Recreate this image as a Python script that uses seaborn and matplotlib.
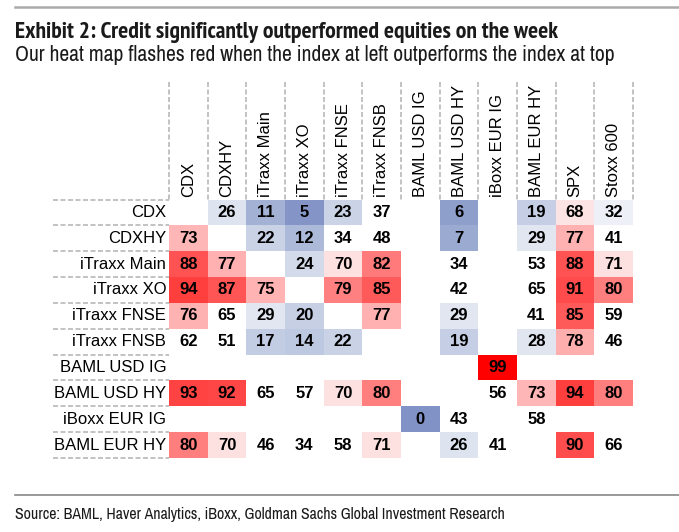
import os
import numpy as np
import pandas as pd
import seaborn as sns
import matplotlib.pyplot as plt
from matplotlib import font_manager as fm
from matplotlib.colors import LinearSegmentedColormap
from matplotlib.lines import Line2D

nan = np.nan

indices = ['CDX', 'CDXHY', 'iTraxx Main', 'iTraxx XO', 'iTraxx FNSE', 'iTraxx FNSB',
           'BAML USD IG', 'BAML USD HY', 'iBoxx EUR IG', 'BAML EUR HY']
top_cols = indices + ['SPX', 'Stoxx 600']

cdx = [nan, 26, 11, 5, 23, 37, nan, 6, nan, 19, 68, 32]
cdxhy = [73, nan, 22, 12, 34, 48, nan, 7, nan, 29, 77, 41]
itraxx_main = [88, 77, nan, 24, 70, 82, nan, 34, nan, 53, 88, 71]
itraxx_xo = [94, 87, 75, nan, 79, 85, nan, 42, nan, 65, 91, 80]
itraxx_fnse = [76, 65, 29, 20, nan, 77, nan, 29, nan, 41, 85, 59]
itraxx_fnsb = [62, 51, 17, 14, 22, nan, nan, 19, nan, 28, 78, 46]
baml_usd_ig = [nan, nan, nan, nan, nan, nan, nan, nan, 99, nan, nan, nan]
baml_usd_hy = [93, 92, 65, 57, 70, 80, nan, nan, 56, 73, 94, 80]
iboxx_eur_ig = [nan, nan, nan, nan, nan, nan, 0, 43, nan, 58, nan, nan]
baml_eur_hy = [80, 70, 46, 34, 58, 71, nan, 26, 41, nan, 90, 66]

title = 'Exhibit 2: Credit significantly outperformed equities on the week'
subtitle = 'Our heat map flashes red when the index at left outperforms the index at top'
source = 'Source: BAML, Haver Analytics, iBoxx, Goldman Sachs Global Investment Research'

df = pd.DataFrame([cdx, cdxhy, itraxx_main, itraxx_xo, itraxx_fnse, itraxx_fnsb,
                   baml_usd_ig, baml_usd_hy, iboxx_eur_ig, baml_eur_hy],
                  index=indices, columns=top_cols)

# blue -> white -> red, white band in the middle
cmap = LinearSegmentedColormap.from_list('gs', [
    (0.00, '#8092c6'), (0.05, '#8494c6'), (0.07, '#9eaed3'), (0.11, '#a2b1d4'),
    (0.13, '#bcc7e0'), (0.18, '#c4cde4'), (0.23, '#cbd3e6'), (0.25, '#dde3ef'),
    (0.30, '#e2e7f1'), (0.32, '#eef1f8'), (0.34, '#ffffff'), (0.66, '#ffffff'),
    (0.68, '#fde4e4'), (0.71, '#fde0e0'), (0.73, '#ffb5b5'), (0.78, '#ffb0b0'),
    (0.79, '#ff8080'), (0.82, '#ff7a7a'), (0.85, '#ff5a5a'), (0.90, '#ff4e4e'),
    (0.94, '#ff4040'), (0.99, '#ff0000'), (1.00, '#ff0000')])


def narrow_font(bold):
    # look for any condensed / narrow face that is installed
    best = None
    for f in fm.fontManager.ttflist:
        base = os.path.basename(f.fname)
        if not any(k in base for k in ('Narrow', 'Condensed', 'Cond')):
            continue
        if any(k in base for k in ('Italic', 'Oblique', 'Semi', 'Extra', 'Light', 'Thin',
                                   'Black', 'Medium', 'Ultra')):
            continue
        is_bold = 'Bold' in base
        if is_bold != bold:
            continue
        rank = 0 if 'Narrow' in base else 1
        if best is None or rank < best[0]:
            best = (rank, f.fname)
    if best:
        return fm.FontProperties(fname=best[1])
    return fm.FontProperties(family='DejaVu Sans', weight='bold' if bold else 'normal')


W, H = 679, 532
plt.rcParams['font.family'] = ['Liberation Sans', 'DejaVu Sans']
fig = plt.figure(figsize=(W / 100, H / 100), dpi=100)
ax = fig.add_axes([169 / W, 1 - 458 / H, 464 / W, 258.5 / H])

sns.heatmap(df, ax=ax, cmap=cmap, vmin=0, vmax=100, annot=True, fmt='.0f',
            cbar=False, annot_kws={'weight': 'bold', 'size': 12, 'color': 'black'})

ax.xaxis.tick_top()
ax.set_xticklabels(top_cols, rotation=90, va='bottom', ha='center', fontsize=12)
ax.set_yticklabels(indices, rotation=0, fontsize=12)
ax.tick_params(length=0, pad=2)
ax.set_xlabel('')
ax.set_ylabel('')

grid_kw = dict(colors='#b8b8b8', linestyles=(0, (3, 1.5)), linewidth=1.2, clip_on=False)
ax.vlines(range(13), -4.55, 0, **grid_kw)
ax.hlines(range(11), -3.0, 0, **grid_kw)

# header / footer
fig.add_artist(Line2D([15 / W, 1], [1 - 7 / H] * 2, color='#aaaaaa', lw=1.8))
fig.add_artist(Line2D([15 / W, 1], [1 - 495 / H] * 2, color='#888888', lw=1.2))

renderer = fig.canvas.get_renderer()
for txt, y, bold, size, width in [(title, 38, True, 14, 545),
                                  (subtitle, 61, False, 14, 602),
                                  (source, 519, False, 12, 490)]:
    t = fig.text(15 / W, 1 - y / H, txt, fontproperties=narrow_font(bold),
                 color='#1a1a1a', va='baseline')
    t.set_fontsize(size)
    w = t.get_window_extent(renderer).width
    t.set_fontsize(size * width / w)

fig.savefig('out.png', dpi=100)
